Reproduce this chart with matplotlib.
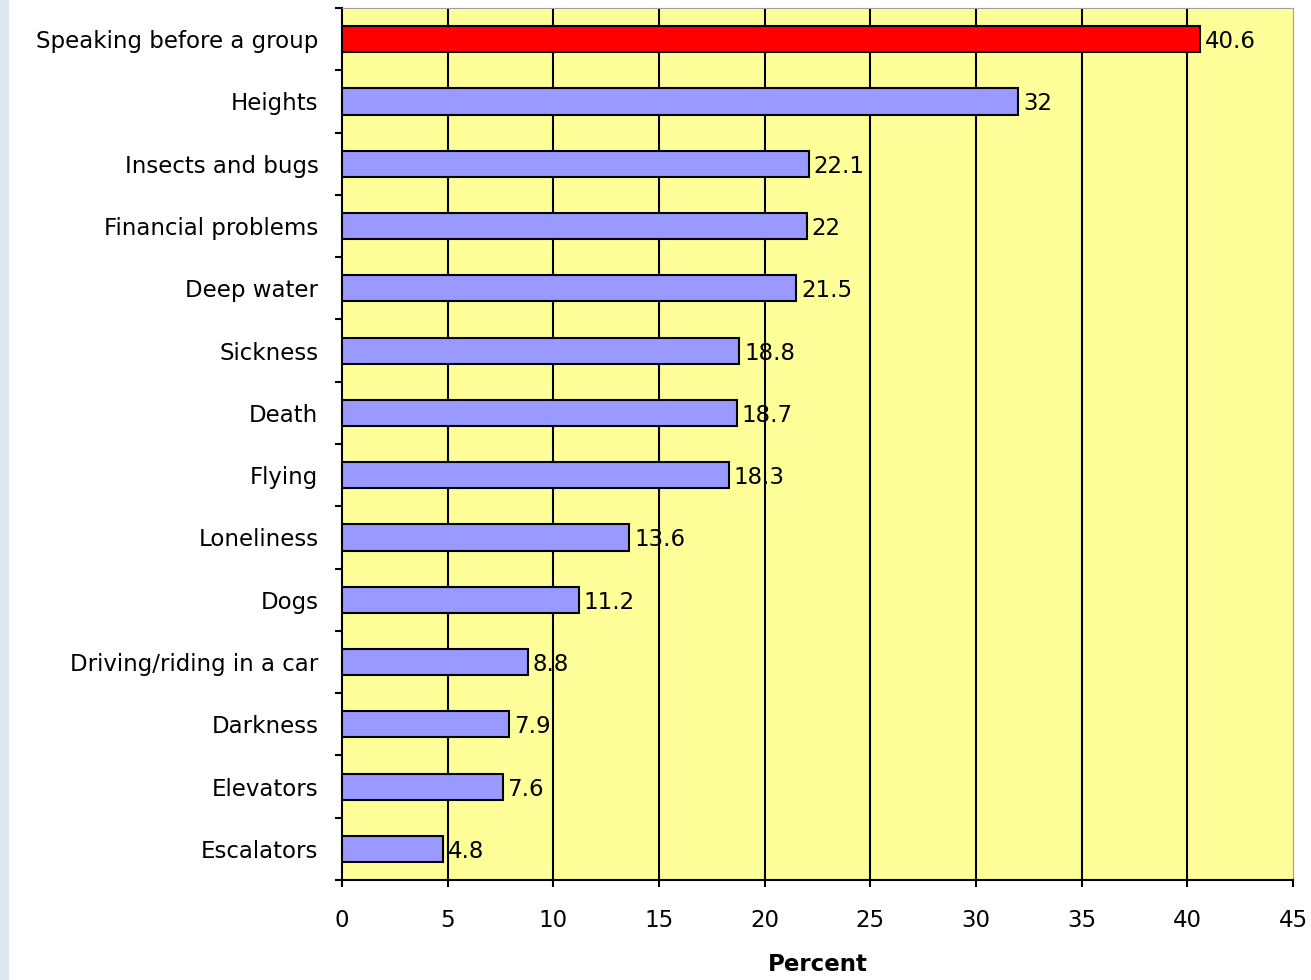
import matplotlib.pyplot as plt
from matplotlib.patches import Rectangle

# Datos
categorias = ['Speaking before a group', 'Heights', 'Insects and bugs', 'Financial problems',
              'Deep water', 'Sickness', 'Death', 'Flying', 'Loneliness', 'Dogs',
              'Driving/riding in a car', 'Darkness', 'Elevators', 'Escalators']
valores = [40.6, 32, 22.1, 22, 21.5, 18.8, 18.7, 18.3, 13.6, 11.2, 8.8, 7.9, 7.6, 4.8]
etiquetas = ['40.6', '32', '22.1', '22', '21.5', '18.8', '18.7', '18.3', '13.6', '11.2',
             '8.8', '7.9', '7.6', '4.8']

plt.rcParams['font.family'] = ['DejaVu Sans']

fig = plt.figure(figsize=(13.11, 9.8), dpi=100)
# franja azul a la izquierda
fig.patches.append(Rectangle((0, 0), 0.007, 1, transform=fig.transFigure,
                             facecolor='#dce8f0', edgecolor='none', zorder=0))
ax = fig.add_axes([0.2609, 0.102, 0.7254, 0.8898])
ax.set_facecolor('#ffff99')

pos = list(range(len(categorias)))
colores = ['#ff0000'] + ['#9999ff'] * (len(categorias) - 1)
ax.barh(pos, valores, height=0.42, color=colores, edgecolor='black', linewidth=1.5, zorder=3)

for p, v, t in zip(pos, valores, etiquetas):
    ax.text(v + 0.22, p + 0.04, t, va='center', ha='left', fontsize=16.5, zorder=4)

ax.set_xlim(0, 45)
ax.set_ylim(len(categorias) - 0.5, -0.5)
ax.set_xticks(range(0, 46, 5))
ax.set_yticks([p - 0.5 for p in pos] + [len(categorias) - 0.5])
ax.set_yticklabels([])
ax.set_yticks(pos, minor=True)
ax.set_yticklabels(categorias, minor=True)
ax.tick_params(axis='y', which='minor', length=0, pad=17, labelsize=16.5)
ax.tick_params(axis='y', which='major', length=5, width=1.5, direction='out')
ax.tick_params(axis='x', length=5, width=1.5, labelsize=16.5, pad=16)

for x in range(5, 45, 5):
    ax.axvline(x, color='black', linewidth=1.5, zorder=2)

ax.spines['left'].set_linewidth(1.5)
ax.spines['bottom'].set_linewidth(1.5)
ax.spines['top'].set_color('#a0a0a0')
ax.spines['right'].set_color('#a0a0a0')

ax.set_xlabel('Percent', fontsize=16.5, fontweight='bold', labelpad=15)

plt.savefig('out.png', dpi=100)
